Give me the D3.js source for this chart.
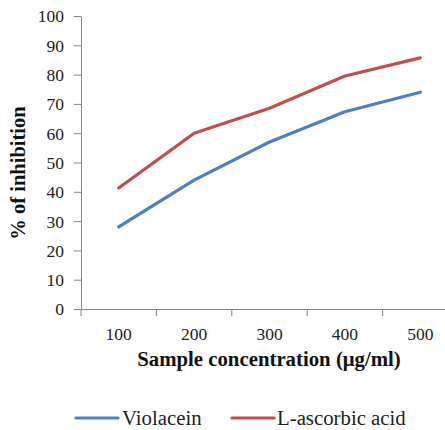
<!DOCTYPE html>
<html><head><meta charset="utf-8">
<script src="https://cdn.jsdelivr.net/npm/d3@7"></script>
<style>body{margin:0;background:#fff}svg{display:block}text{font-family:"Liberation Serif","Times New Roman",serif}</style>
</head><body>
<script>
const categories = ["100","200","300","400","500"];
const violacein = [28, 44, 57, 67.3, 74];
const ascorbic = [41.3, 60, 68.5, 79.5, 85.7];
const yTicks = [0,10,20,30,40,50,60,70,80,90,100];
const seriesNames = ["Violacein","L-ascorbic acid"];
const colors = ["#4F81BD","#C0504D"];

const W=445,H=430;
const svg=d3.select("body").append("svg").attr("width",W).attr("height",H);
const x=d3.scaleBand().domain(categories).range([81,458]);
const y=d3.scaleLinear().domain([0,100]).range([309,16]);

const axisColor="#868686";
// y axis
const ya=svg.append("g").attr("transform","translate(81,0)")
  .call(d3.axisLeft(y).tickValues(yTicks).tickSize(7).tickSizeOuter(0).tickPadding(10));
ya.select(".domain").attr("stroke",axisColor);
ya.selectAll(".tick line").attr("stroke",axisColor);
ya.selectAll(".tick text").attr("font-size",17.5).attr("fill","#222").attr("font-family","Liberation Serif").attr("dy","0.34em");
// x axis
const xa=svg.append("g").attr("transform","translate(0,309)")
  .call(d3.axisBottom(x).tickSize(0).tickPadding(19));
xa.select(".domain").attr("stroke",axisColor);
xa.selectAll(".tick text").attr("font-size",17.5).attr("fill","#222").attr("font-family","Liberation Serif");
// boundary ticks
const bounds=categories.map(c=>x(c)).concat([x.range()[1]]);
svg.append("g").selectAll("line").data(bounds).join("line")
  .attr("x1",d=>d).attr("x2",d=>d).attr("y1",309).attr("y2",316).attr("stroke",axisColor);

const line=d3.line().x((d,i)=>x(categories[i])+x.bandwidth()/2).y(d=>y(d));
[violacein,ascorbic].forEach((s,k)=>{
  svg.append("path").datum(s).attr("d",line).attr("fill","none")
    .attr("stroke",colors[k]).attr("stroke-width",3.2).attr("stroke-linejoin","round").attr("stroke-linecap","round");
});

svg.append("text").attr("x",269).attr("y",366).attr("text-anchor","middle")
  .attr("font-size",20.8).attr("font-weight","bold").attr("fill","#111").text("Sample concentration (μg/ml)");
svg.append("text").attr("transform","translate(25,173) rotate(-90)").attr("text-anchor","middle")
  .attr("font-size",20.5).attr("font-weight","bold").attr("fill","#111").text("% of inhibition");

const legend=[{x:76,tx:122},{x:232,tx:277}];
legend.forEach((l,k)=>{
  svg.append("line").attr("x1",l.x).attr("x2",l.x+42).attr("y1",418).attr("y2",418)
    .attr("stroke",colors[k]).attr("stroke-width",3.2).attr("stroke-linecap","round");
  svg.append("text").attr("x",l.tx).attr("y",425).attr("font-size",20.8).attr("fill","#222").text(seriesNames[k]);
});
</script>
</body></html>
